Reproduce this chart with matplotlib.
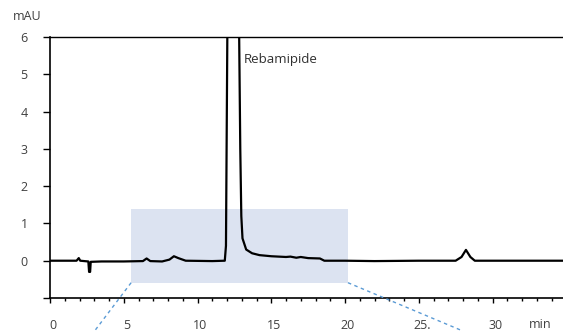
import matplotlib
matplotlib.use("Agg")
import matplotlib.pyplot as plt
from matplotlib.ticker import MultipleLocator
from matplotlib.transforms import ScaledTranslation

plt.rcParams['font.family'] = ['Open Sans', 'DejaVu Sans']

# Chromatogram (time in min, signal in mAU)
time = [0.0, 1.0, 1.8, 1.95, 2.05, 2.6, 2.65, 2.72, 2.76, 3.5, 5.0, 6.3, 6.55, 6.8,
        7.6, 8.1, 8.4, 8.7, 9.2, 11.0, 11.85, 11.93, 12.03, 12.45, 12.8, 12.9,
        12.97, 13.05, 13.3, 13.7, 14.2, 15.0, 16.0, 16.3, 16.7, 17.0, 17.5, 18.3,
        18.6, 20.0, 22.0, 25.0, 27.5, 27.9, 28.2, 28.5, 28.8, 31.0, 35.0]
signal = [0.0, 0.0, 0.0, 0.07, 0.0, -0.02, -0.3, -0.3, -0.03, -0.02, -0.02, -0.01, 0.06, -0.01,
          -0.02, 0.03, 0.12, 0.07, 0.0, -0.01, 0.0, 0.4, 6.5, 30.0, 7.0, 3.0,
          1.2, 0.6, 0.3, 0.2, 0.15, 0.12, 0.1, 0.11, 0.08, 0.1, 0.07, 0.06,
          0.0, 0.0, -0.01, 0.0, 0.0, 0.1, 0.29, 0.1, 0.0, 0.0, 0.0]

x_ticks = [0, 5, 10, 15, 20, 25, 30]
x_labels = ["0", "5", "10", "15", "20", "25.", "30"]
y_ticks = [0, 1, 2, 3, 4, 5, 6]
peak_label = "Rebamipide"

# Highlighted zoom region (min, mAU)
zoom_x = [5.5, 20.2]
zoom_y = [-0.59, 1.39]

fig = plt.figure(figsize=(5.63, 3.31), dpi=100)
ax = fig.add_axes([50/563, 1-298/331, 1-50/563, (298-37)/331])

ax.axvspan(zoom_x[0], zoom_x[1], ymin=(zoom_y[0]+1)/7, ymax=(zoom_y[1]+1)/7,
           color='#dce3f1', lw=0, zorder=0)
ax.plot(time, signal, color='black', lw=1.6, zorder=3, solid_joinstyle='round')

ax.set_xlim(0, (563-50)/14.75)
ax.set_ylim(-1, 6)

ax.set_xticks(x_ticks)
ax.set_xticklabels(x_labels)
ax.xaxis.set_minor_locator(MultipleLocator(1))
ax.set_yticks([-1] + y_ticks)
ax.set_yticklabels([""] + [str(v) for v in y_ticks])

ax.spines['right'].set_visible(False)
for s in ['left', 'bottom']:
    ax.spines[s].set_linewidth(1.2)
ax.spines['top'].set_linewidth(1.0)

ax.tick_params(axis='x', which='major', direction='out', length=3.8, width=1, pad=11,
               labelsize=9, labelcolor='#404040')
ax.tick_params(axis='x', which='minor', direction='out', length=2.3, width=1)
ax.tick_params(axis='y', direction='out', length=5, width=1, pad=11,
               labelsize=9, labelcolor='#404040')

shift = ScaledTranslation(3/100, 0, fig.dpi_scale_trans)
for lbl in ax.get_xticklabels():
    lbl.set_transform(lbl.get_transform() + shift)

fig.text(540/563, 1-325/331, "min", ha='center', va='center',
         fontsize=9, color='#404040')
fig.text(13/563, 1-17/331, "mAU", ha='left', va='center', fontsize=9, color='#404040')
ax.text(13.15, 5.4, peak_label, ha='left', va='center', fontsize=9.5, color='#303030')

# Dashed zoom connector lines
ax.plot([zoom_x[0], 3.05], [zoom_y[0], -1.87], ls=(0, (2.5, 2.5)), color='#5b9bd5',
        lw=1, clip_on=False, zorder=4)
ax.plot([zoom_x[1], 27.9], [zoom_y[0], -1.87], ls=(0, (2.5, 2.5)), color='#5b9bd5',
        lw=1, clip_on=False, zorder=4)

fig.savefig("out.png", dpi=100)
